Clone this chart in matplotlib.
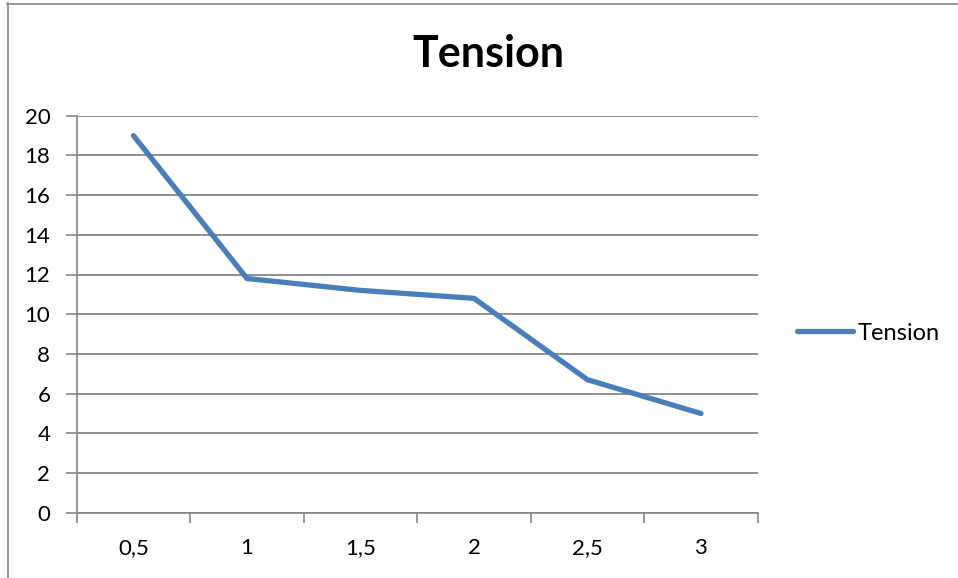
import numpy as np
import matplotlib.pyplot as plt
from matplotlib.lines import Line2D
from matplotlib.ticker import FixedLocator, NullFormatter

# data
categories = ["0,5", "1", "1,5", "2", "2,5", "3"]
tension = [19.0, 11.8, 11.2, 10.8, 6.7, 5.0]

W, H = 958, 578
plt.rcParams['font.family'] = ['Lato', 'DejaVu Sans']

fig = plt.figure(figsize=(W / 100, H / 100), dpi=100)

# chart area border (clipped at right/bottom like the screenshot)
grey = '#868686'
fig.add_artist(Line2D([7.5 / W, 7.5 / W], [0, 1 - 3 / H], color=grey, lw=1.2, transform=fig.transFigure))
fig.add_artist(Line2D([7 / W, 1], [1 - 3.5 / H, 1 - 3.5 / H], color=grey, lw=1.2, transform=fig.transFigure))

ax = fig.add_axes([76.7 / W, 1 - 512.7 / H, (757.7 - 76.7) / W, (512.7 - 115.7) / H])

x = np.arange(len(categories))
line, = ax.plot(x, tension, color='#4a7ebb', lw=3.8, solid_capstyle='round',
                solid_joinstyle='miter', label="Tension", zorder=3)

ax.set_xlim(-0.5, len(categories) - 0.5)
ax.set_ylim(0, 20)
ax.set_yticks(np.arange(0, 21, 2))
ax.yaxis.grid(True, color=grey, lw=1.3)
ax.set_axisbelow(True)

# ticks between categories, labels centered
ax.xaxis.set_major_locator(FixedLocator(np.arange(-0.5, len(categories), 1.0)))
ax.xaxis.set_major_formatter(NullFormatter())
ax.xaxis.set_minor_locator(FixedLocator(x))
ax.set_xticklabels(categories, minor=True)
ax.tick_params(axis='x', which='major', length=7, width=1.2, color=grey, direction='out')
ax.tick_params(axis='x', which='minor', length=0, labelsize=16, pad=18)
ax.tick_params(axis='y', length=8, width=1.2, color=grey, labelsize=16, pad=11)

for s in ['top', 'right']:
    ax.spines[s].set_visible(False)
for s in ['left', 'bottom']:
    ax.spines[s].set_color(grey)
    ax.spines[s].set_linewidth(1.2)

fig.text(488 / W, 1 - 54 / H, "Tension", ha='center', va='center', fontsize=31, fontweight='bold')

fig.legend(handles=[line], loc='center left', bbox_to_anchor=(797 / W, 1 - 333 / H),
           frameon=False, fontsize=17, handlelength=2.37, handletextpad=0.2,
           borderaxespad=0, borderpad=0)

fig.savefig("out.png", dpi=100)
